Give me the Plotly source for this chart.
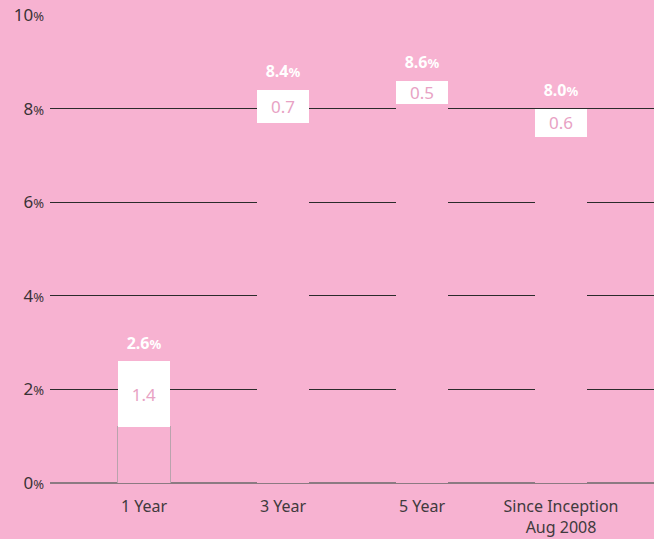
import plotly.graph_objects as go

categories = ["1 Year", "3 Year", "5 Year", "Since Inception<br>Aug 2008"]
totals = [2.6, 8.4, 8.6, 8.0]
top_parts = [1.4, 0.7, 0.5, 0.6]
base_parts = [round(t - p, 1) for t, p in zip(totals, top_parts)]
tick_vals = [0, 2, 4, 6, 8, 10]

BG = "#F7B2D1"
LABEL_PINK = "#E8A2C4"
PCT = "<span style='font-size:13px'>%</span>"

fig = go.Figure()
fig.add_trace(go.Bar(
    x=categories, y=base_parts, width=0.38,
    marker=dict(color=BG, line=dict(color="#B9A3AD", width=[1, 0, 0, 0])),
    hoverinfo="skip", showlegend=False,
))
fig.add_trace(go.Bar(
    x=categories, y=top_parts, width=0.38,
    marker=dict(color="white", line=dict(width=0)),
    text=[f"{v:.1f}" for v in top_parts], textposition="inside",
    insidetextanchor="middle",
    textfont=dict(color=LABEL_PINK, size=17, family="Noto Sans"),
    hoverinfo="skip", showlegend=False,
))
fig.add_trace(go.Scatter(
    x=categories, y=totals, mode="markers+text",
    marker=dict(size=12, opacity=0),
    text=[f"<b>{v:.1f}</b>" + "<b><span style='font-size:13px'>%</span></b>" for v in totals],
    textposition="top center",
    textfont=dict(color="white", size=16, family="Noto Sans"),
    hoverinfo="skip", showlegend=False,
))

fig.update_layout(
    barmode="stack",
    width=654, height=539,
    margin=dict(l=50, r=0, t=15, b=56),
    paper_bgcolor=BG, plot_bgcolor=BG,
    font=dict(family="Noto Sans", color="#3a3a3a"),
    uniformtext=dict(mode="show", minsize=17),
    xaxis=dict(
        range=[-0.676, 3.669], showgrid=False, zeroline=False,
        tickfont=dict(size=16, color="#403a3d"), ticks="", fixedrange=True,
        ticklabelstandoff=12,
    ),
    yaxis=dict(
        range=[0, 10], tickvals=tick_vals,
        ticktext=[f"{v}{PCT}" for v in tick_vals],
        tickfont=dict(size=17, color="#3a3236"),
        showgrid=True, gridcolor="#2b2b2b", gridwidth=1,
        zeroline=True, zerolinecolor="#8C7A82", zerolinewidth=2,
        ticks="", ticklabelstandoff=5,
    ),
    bargap=0.62,
)

fig.write_html("out.html", config={"displayModeBar": False},
               post_script="document.body.style.margin='0';")
